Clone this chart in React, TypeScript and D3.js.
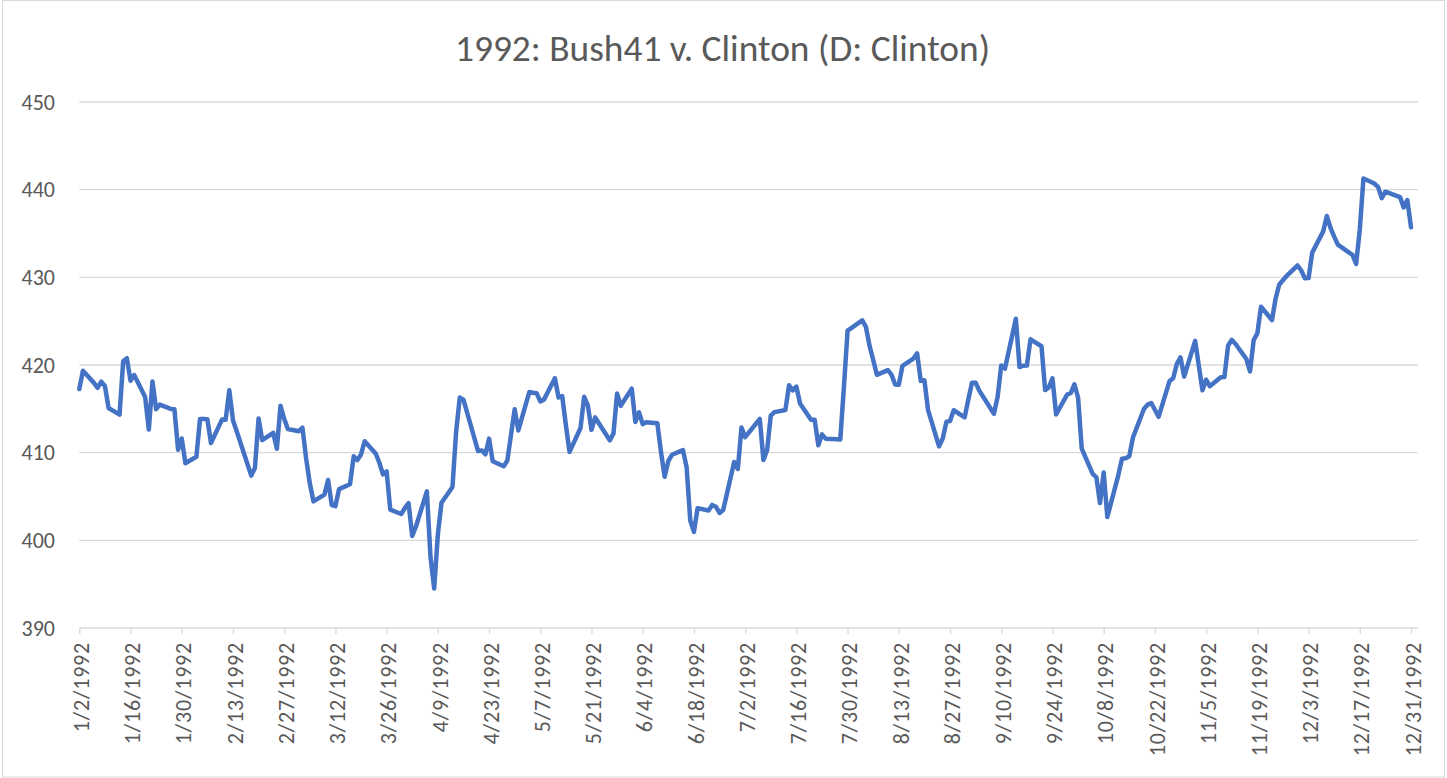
import React, { useEffect, useRef } from 'react'
import * as d3 from 'd3'

const title = '1992: Bush41 v. Clinton (D: Clinton)'
const yTicks = [390, 400, 410, 420, 430, 440, 450]

// trading days (day of month) and closing values, month by month
const janDays = [2, 3, 6, 7, 8, 9, 10, 13, 14, 15, 16, 17, 20, 21, 22, 23, 24, 27, 28, 29, 30, 31]
const janValues = [417.26, 419.34, 417.96, 417.4, 418.1, 417.61, 415.1, 414.34, 420.44, 420.77, 418.21, 418.86, 416.36, 412.64, 418.13, 414.96, 415.48, 414.99, 414.96, 410.34, 411.62, 408.79]

const febDays = [3, 4, 5, 6, 7, 10, 11, 12, 13, 14, 18, 19, 20, 21, 24, 25, 26, 27, 28]
const febValues = [409.53, 413.85, 413.84, 413.82, 411.09, 413.77, 413.76, 417.13, 413.69, 412.48, 407.38, 408.26, 413.9, 411.43, 412.27, 410.45, 415.35, 413.86, 412.7]

const marDays = [2, 3, 4, 5, 6, 9, 10, 11, 12, 13, 16, 17, 18, 19, 20, 23, 24, 25, 26, 27, 30, 31]
const marValues = [412.45, 412.85, 409.33, 406.51, 404.44, 405.21, 406.89, 404.03, 403.89, 405.84, 406.39, 409.58, 409.15, 409.8, 411.3, 409.91, 408.88, 407.52, 407.86, 403.5, 403.0, 403.69]

const aprDays = [1, 2, 3, 6, 7, 8, 9, 10, 13, 14, 15, 16, 20, 21, 22, 23, 24, 27, 28, 29, 30]
const aprValues = [404.23, 400.5, 401.55, 405.59, 398.06, 394.5, 400.64, 404.29, 406.08, 412.39, 416.28, 416.04, 410.18, 410.26, 409.81, 411.6, 409.02, 408.45, 409.11, 412.02, 414.95]

const mayDays = [1, 4, 5, 6, 7, 8, 11, 12, 13, 14, 15, 18, 19, 20, 21, 22, 26, 27, 28, 29]
const mayValues = [412.53, 416.91, 416.84, 416.79, 415.85, 416.05, 418.49, 416.29, 416.45, 413.14, 410.09, 412.81, 416.37, 415.39, 412.6, 414.02, 411.41, 412.17, 416.74, 415.35]

const junDays = [1, 2, 3, 4, 5, 8, 9, 10, 11, 12, 15, 16, 17, 18, 19, 22, 23, 24, 25, 26, 29, 30]
const junValues = [417.3, 413.5, 414.59, 413.26, 413.48, 413.36, 410.06, 407.25, 409.05, 409.76, 410.29, 408.33, 402.26, 400.96, 403.67, 403.4, 404.04, 403.84, 403.12, 403.45, 408.94, 408.14]

const julDays = [1, 2, 6, 7, 8, 9, 10, 13, 14, 15, 16, 17, 20, 21, 22, 23, 24, 27, 28, 29, 30, 31]
const julValues = [412.88, 411.77, 413.84, 409.16, 410.28, 414.23, 414.62, 414.87, 417.68, 417.1, 417.54, 415.62, 413.75, 413.76, 410.85, 412.08, 411.6, 411.54, 411.5, 417.52, 423.92, 424.21]

const augDays = [3, 4, 5, 6, 7, 10, 11, 12, 13, 14, 17, 18, 19, 20, 21, 24, 25, 26, 27, 28, 31]
const augValues = [425.09, 424.36, 422.19, 420.59, 418.88, 419.42, 418.9, 417.78, 417.74, 419.91, 420.74, 421.34, 418.19, 418.26, 414.85, 410.72, 411.61, 413.51, 413.61, 414.84, 414.03]

const sepDays = [1, 2, 3, 4, 8, 9, 10, 11, 14, 15, 16, 17, 18, 21, 22, 23, 24, 25, 28, 29, 30]
const sepValues = [416.07, 417.98, 417.98, 417.08, 414.44, 416.36, 419.95, 419.58, 425.27, 419.77, 419.92, 419.93, 422.93, 422.14, 417.14, 417.44, 418.47, 414.35, 416.62, 416.8, 417.8]

const octDays = [1, 2, 5, 6, 7, 8, 9, 12, 13, 14, 15, 16, 19, 20, 21, 22, 23, 26, 27, 28, 29, 30]
const octValues = [416.29, 410.47, 407.57, 407.18, 404.25, 407.75, 402.66, 407.44, 409.3, 409.37, 409.6, 411.73, 414.98, 415.48, 415.67, 414.9, 414.09, 418.16, 418.49, 420.13, 420.86, 418.68]

const novDays = [2, 3, 4, 5, 6, 9, 10, 11, 12, 13, 16, 17, 18, 19, 20, 23, 24, 25, 27, 30]
const novValues = [422.75, 419.92, 417.11, 418.34, 417.58, 418.59, 418.62, 422.2, 422.87, 422.43, 420.68, 419.27, 422.85, 423.61, 426.65, 425.12, 427.59, 429.19, 430.16, 431.35]

const decDays = [1, 2, 3, 4, 7, 8, 9, 10, 11, 14, 15, 16, 17, 18, 21, 22, 23, 24, 28, 29, 30, 31]
const decValues = [430.78, 429.89, 429.91, 432.82, 435.24, 436.99, 435.65, 434.64, 433.73, 432.84, 432.57, 431.52, 435.43, 441.28, 440.7, 440.31, 439.03, 439.77, 439.15, 437.98, 438.82, 435.71]

const monthDays = [janDays, febDays, marDays, aprDays, mayDays, junDays, julDays, augDays, sepDays, octDays, novDays, decDays]
const monthValues = [janValues, febValues, marValues, aprValues, mayValues, junValues, julValues, augValues, sepValues, octValues, novValues, decValues]

const App = () => {
  const width = 1447
  const height = 778
  const plot = { left: 79.3, right: 1411, gridRight: 1418, top: 102, bottom: 628 }
  const font = 'Calibri, Carlito, "Open Sans", sans-serif'
  const svgRef = useRef(null)

  useEffect(() => {
    if (!svgRef.current) return
    const svg = d3.select(svgRef.current)
    svg.selectAll('*').remove()

    const data = monthDays.flatMap((days, m) =>
      days.map((day, i) => ({ date: new Date(1992, m, day), value: monthValues[m][i] }))
    )

    const xScale = d3.scaleTime()
      .domain([new Date(1992, 0, 2), new Date(1992, 11, 31)])
      .range([plot.left, plot.right])

    const yScale = d3.scaleLinear()
      .domain([390, 450])
      .range([plot.bottom, plot.top])

    // chart area border
    svg.append('rect')
      .attr('x', 2.5).attr('y', 0.5)
      .attr('width', width - 5).attr('height', height - 1.5)
      .attr('fill', '#fff')
      .attr('stroke', '#d9d9d9')

    svg.append('text')
      .attr('x', 722.5)
      .attr('y', 61)
      .attr('text-anchor', 'middle')
      .attr('font-family', font)
      .attr('font-size', 37)
      .attr('fill', '#595959')
      .attr('textLength', 535)
      .attr('lengthAdjust', 'spacingAndGlyphs')
      .text(title)

    // horizontal gridlines
    svg.append('g')
      .selectAll('line')
      .data(yTicks)
      .join('line')
      .attr('x1', plot.left)
      .attr('x2', plot.gridRight)
      .attr('y1', d => yScale(d))
      .attr('y2', d => yScale(d))
      .attr('stroke', '#d9d9d9')
      .attr('stroke-width', 1.3)

    svg.append('g')
      .selectAll('text')
      .data(yTicks)
      .join('text')
      .attr('x', 55)
      .attr('y', d => yScale(d))
      .attr('dy', '0.35em')
      .attr('text-anchor', 'end')
      .attr('font-family', font)
      .attr('font-size', 22)
      .attr('fill', '#595959')
      .text(d => d)

    // x axis: every 14 days from 1/2/1992
    const tickDates = d3.timeDay.range(new Date(1992, 0, 2), new Date(1992, 11, 32), 14)
    const xAxis = d3.axisBottom(xScale)
      .tickValues(tickDates)
      .tickSize(6)
      .tickFormat(d3.timeFormat('%-m/%-d/%Y'))

    const gx = svg.append('g')
      .attr('transform', `translate(0,${plot.bottom})`)
      .call(xAxis)
    gx.select('.domain').remove()
    gx.selectAll('.tick line').attr('stroke', '#d9d9d9').attr('stroke-width', 1.3)
    gx.selectAll('.tick text')
      .attr('transform', 'rotate(-90)')
      .attr('x', -14)
      .attr('y', 1.5)
      .attr('dy', '0.35em')
      .attr('text-anchor', 'end')
      .attr('font-family', font)
      .attr('font-size', 22)
      .attr('letter-spacing', 0.8)
      .attr('fill', '#595959')

    const line = d3.line()
      .x(d => xScale(d.date))
      .y(d => yScale(d.value))

    svg.append('path')
      .datum(data)
      .attr('d', line)
      .attr('fill', 'none')
      .attr('stroke', '#4472c4')
      .attr('stroke-width', 4.5)
      .attr('stroke-linejoin', 'round')
      .attr('stroke-linecap', 'round')
  }, [])

  return (
    <svg ref={svgRef} width={width} height={height} style={{ position: 'absolute', left: 0, top: 0 }} />
  )
}

export default App
